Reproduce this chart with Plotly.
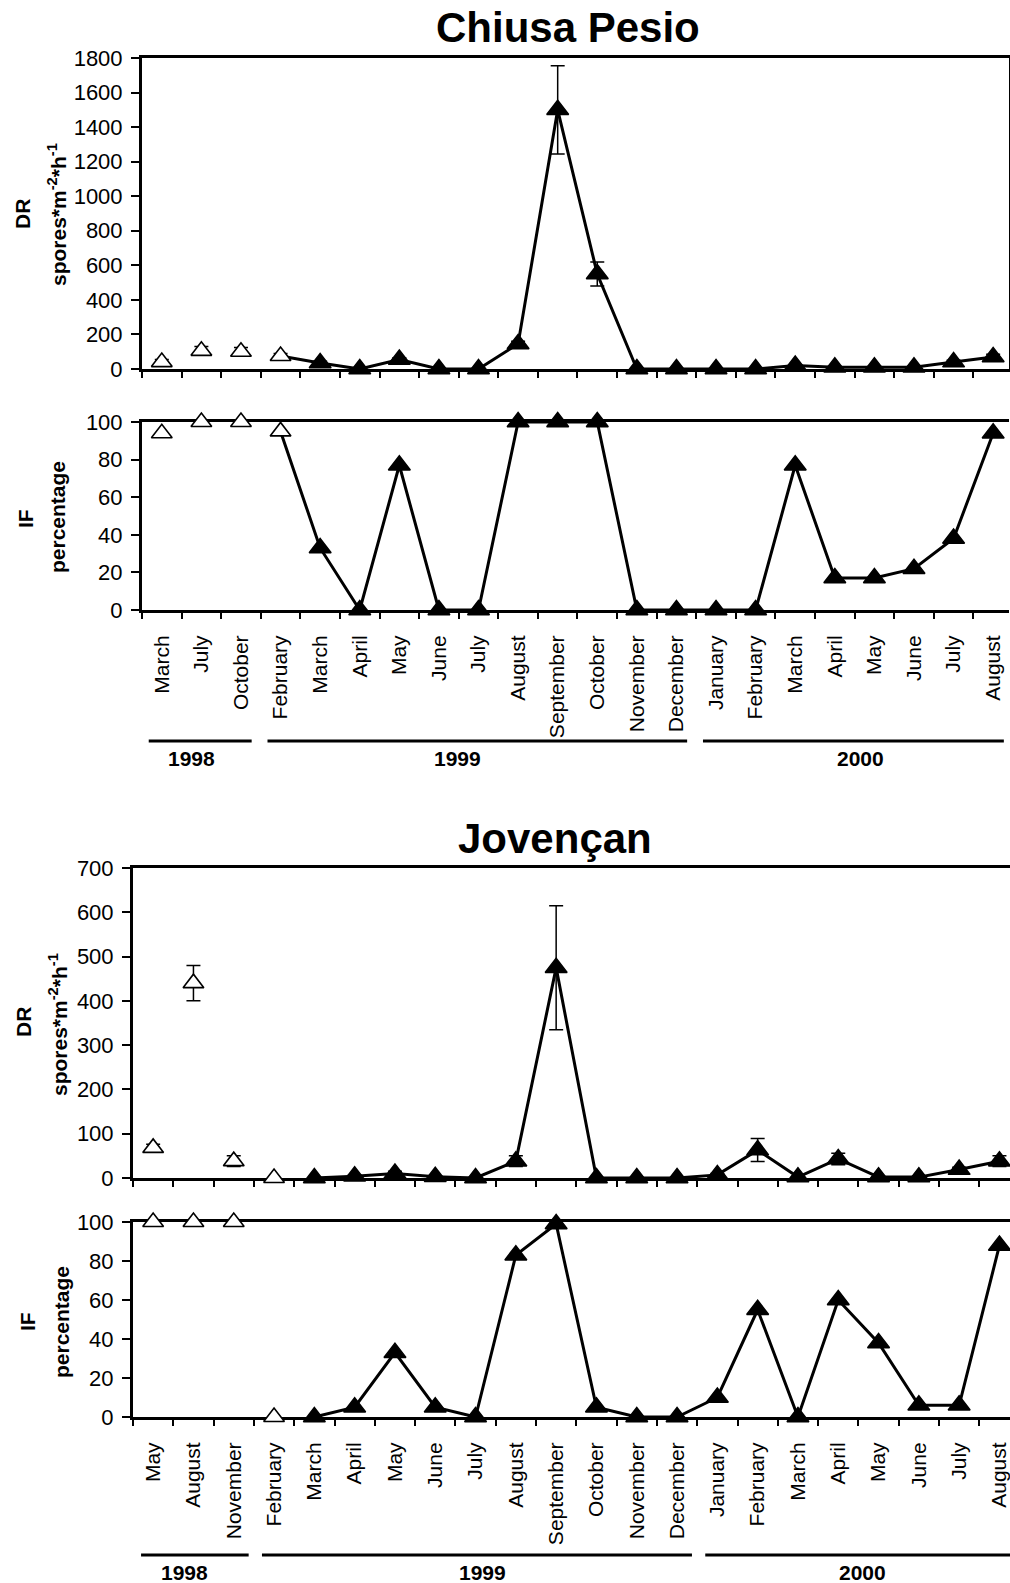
import plotly.graph_objects as go

# ---------------- data ----------------
cp_months = ["March", "July", "October", "February", "March", "April", "May", "June",
             "July", "August", "September", "October", "November", "December",
             "January", "February", "March", "April", "May", "June", "July", "August"]
jv_months = ["May", "August", "November", "February", "March", "April", "May", "June",
             "July", "August", "September", "October", "November", "December",
             "January", "February", "March", "April", "May", "June", "July", "August"]
years = ["1998", "1999", "2000"]
year_counts = [3, 11, 8]

# Chiusa Pesio
cp_dr = [40, 105, 100, 75, 35, 0, 55, 0, 0, 145, 1500, 550, 0, 0,
         0, 0, 20, 10, 10, 10, 40, 70]
cp_dr_err = [15, 25, 25, 15, 10, 0, 10, 0, 0, 15, 255, 70, 0, 0,
             0, 0, 5, 5, 5, 5, 10, 15]
cp_if = [94, 100, 100, 95, 33, 0, 77, 0, 0, 100, 100, 100, 0, 0,
         0, 0, 77, 17, 17, 22, 38, 94]
cp_n_open = 4          # first points drawn as open triangles
cp_line_start = 3      # line starts at this point

# Jovençan
jv_dr = [68, 440, 38, 0, 0, 4, 10, 3, 0, 38, 475, 0, 0, 0,
         7, 63, 2, 43, 2, 2, 19, 38]
jv_dr_err = [8, 40, 12, 0, 0, 2, 5, 2, 0, 12, 140, 0, 0, 0,
             3, 26, 1, 13, 1, 1, 5, 12]
jv_if = [100, 100, 100, 0, 0, 5, 33, 5, 0, 83, 99, 5, 0, 0,
         10, 55, 0, 60, 38, 6, 6, 88]
jv_n_open = 4
jv_line_start = 4

# ---------------- layout helpers ----------------
W, H = 1010, 1583
FONT = "Liberation Sans, Arial, Helvetica, sans-serif"


def fy(px):
    return 1 - px / H


def fx(px):
    return px / W


fig = go.Figure()


def add_series(xa, ya, vals, errs, n_open, line_start):
    x = list(range(len(vals)))
    fig.add_trace(go.Scatter(
        x=x[line_start:], y=vals[line_start:], mode="lines",
        line=dict(color="black", width=3), xaxis=xa, yaxis=ya,
        showlegend=False, hoverinfo="skip", cliponaxis=False))
    err_filled = dict(type="data", array=errs[n_open:], visible=True, color="black",
                      thickness=1.5, width=7) if errs else None
    err_open = dict(type="data", array=errs[:n_open], visible=True, color="black",
                    thickness=1.5, width=7) if errs else None
    fig.add_trace(go.Scatter(
        x=x[n_open:], y=vals[n_open:], mode="markers",
        marker=dict(symbol="triangle-up", size=19, color="black",
                    line=dict(color="black", width=1.5)),
        error_y=err_filled, xaxis=xa, yaxis=ya, showlegend=False, cliponaxis=False))
    fig.add_trace(go.Scatter(
        x=x[:n_open], y=vals[:n_open], mode="markers",
        marker=dict(symbol="triangle-up", size=18, color="white",
                    line=dict(color="black", width=1.6)),
        error_y=err_open, xaxis=xa, yaxis=ya, showlegend=False, cliponaxis=False))


add_series("x", "y", cp_dr, cp_dr_err, cp_n_open, cp_line_start)
add_series("x2", "y2", cp_if, None, cp_n_open, cp_line_start)
add_series("x3", "y3", jv_dr, jv_dr_err, jv_n_open, jv_line_start)
add_series("x4", "y4", jv_if, None, jv_n_open, jv_line_start)


def xaxis(dom, rng, labels, show_labels, anchor):
    n = len(labels)
    return dict(
        domain=dom, range=rng, anchor=anchor, automargin=False,
        showline=True, linewidth=3, linecolor="black", mirror=True,
        layer="below traces",
        showgrid=False, zeroline=False,
        tickmode="array", tickvals=list(range(n)), ticktext=labels,
        showticklabels=show_labels, ticks="", tickangle=-90,
        ticklabelstandoff=14, ticklabeloverflow="allow",
        tickfont=dict(family=FONT, size=21, color="black"),
        minor=dict(tickmode="linear", tick0=-0.5, dtick=1, ticks="outside",
                   ticklen=6, tickwidth=1.5, tickcolor="black", showgrid=False),
    )


def yaxis(dom, ymax, dtick, anchor, mirror):
    return dict(
        domain=dom, range=[0, ymax], anchor=anchor, automargin=False,
        showline=True, linewidth=3, linecolor="black", mirror=mirror,
        layer="below traces",
        showgrid=False, zeroline=False,
        tickmode="linear", tick0=0, dtick=dtick,
        ticks="outside", ticklen=8, tickwidth=1.5, tickcolor="black",
        ticklabelstandoff=4,
        tickfont=dict(family=FONT, size=22, color="black"),
    )


cp_xdom = [fx(142), fx(1009)]
cp_xrng = [-0.5, 21.4]
jv_xdom = [fx(133), 1.0]
jv_xrng = [-0.5, -0.5 + (1010 - 133) / 40.3]

fig.update_layout(
    width=W, height=H, autosize=False,
    margin=dict(l=0, r=0, t=0, b=0, pad=0, autoexpand=False),
    paper_bgcolor="white", plot_bgcolor="white",
    font=dict(family=FONT, color="black"),
    xaxis=xaxis(cp_xdom, cp_xrng, cp_months, False, "y"),
    xaxis2=xaxis(cp_xdom, cp_xrng, cp_months, True, "y2"),
    xaxis3=xaxis(jv_xdom, jv_xrng, jv_months, False, "y3"),
    xaxis4=xaxis(jv_xdom, jv_xrng, jv_months, True, "y4"),
    yaxis=yaxis([fy(369), fy(58)], 1800, 200, "x", True),
    yaxis2=yaxis([fy(610), fy(422)], 100, 20, "x2", False),
    yaxis3=yaxis([fy(1178), fy(868)], 700, 100, "x3", False),
    yaxis4=yaxis([fy(1417), fy(1222)], 100, 20, "x4", False),
)

annotations = []
shapes = []


def text(x, y, s, size, bold=True, angle=0, xref="paper"):
    annotations.append(dict(
        x=x, y=y, xref=xref, yref="paper", text=("<b>%s</b>" % s) if bold else s,
        showarrow=False, textangle=angle, xanchor="center", yanchor="middle",
        font=dict(family=FONT, size=size, color="black")))


# titles
text(fx(568), fy(28), "Chiusa Pesio", 42)
text(fx(555), fy(838), "Jovençan", 42)

# axis titles
text(fx(22), fy(214), "DR", 21, angle=-90)
text(fx(57), fy(215), "spores*m<sup>-2</sup>*h<sup>-1</sup>", 21, angle=-90)
text(fx(25), fy(519), "IF", 21, angle=-90)
text(fx(57), fy(517), "percentage", 21, angle=-90)
text(fx(23), fy(1022), "DR", 21, angle=-90)
text(fx(58), fy(1025), "spores*m<sup>-2</sup>*h<sup>-1</sup>", 21, angle=-90)
text(fx(27), fy(1322), "IF", 21, angle=-90)
text(fx(61), fy(1322), "percentage", 21, angle=-90)


# year brackets
def year_groups(xref, line_y, label_y, nudges, ends_pad):
    start = 0
    for yr, cnt, nd in zip(years, year_counts, nudges):
        first, last = start, start + cnt - 1
        shapes.append(dict(type="line", xref=xref, yref="paper",
                           x0=first - ends_pad[0], x1=last + ends_pad[1],
                           y0=fy(line_y), y1=fy(line_y),
                           line=dict(color="black", width=3)))
        text((first + last) / 2 + nd, fy(label_y), yr, 21, xref=xref)
        start += cnt


year_groups("x2", 741, 758, [-0.24, -0.52, 0.14], (0.33, 0.27))
year_groups("x4", 1555, 1572, [-0.21, 0.18, 0.09], (0.30, 0.37))

fig.update_layout(annotations=annotations, shapes=shapes)

# remove the default 8px page margin so the figure sits at the page origin
fig.write_html(
    "out.html",
    config={"displayModeBar": False},
    post_script="document.body.style.margin='0';document.body.style.overflow='hidden';",
)
